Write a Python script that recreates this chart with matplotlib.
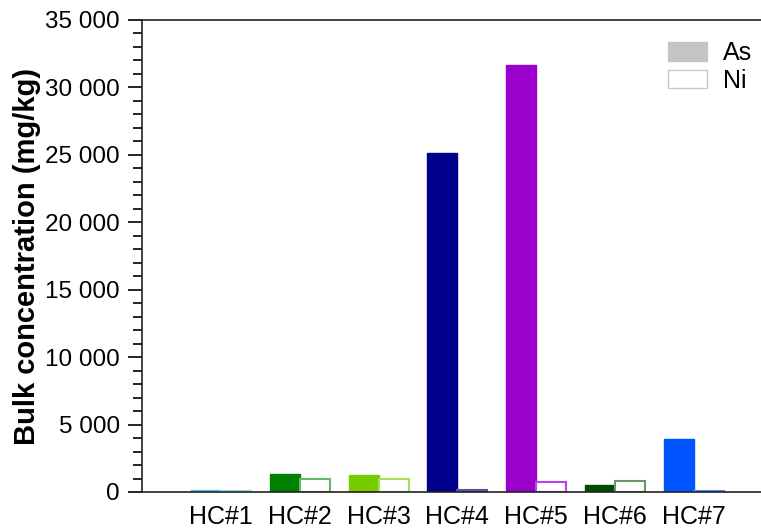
import numpy as np
import matplotlib
matplotlib.use("Agg")
import matplotlib.pyplot as plt
from matplotlib.ticker import FuncFormatter, MultipleLocator
from matplotlib.patches import Patch

plt.rcParams["font.family"] = ["Liberation Sans", "DejaVu Sans"]

samples = ["HC#1", "HC#2", "HC#3", "HC#4", "HC#5", "HC#6", "HC#7"]
arsenic = [120, 1340, 1290, 25150, 31650, 530, 3900]
nickel = [80, 950, 970, 140, 740, 850, 90]
as_colors = ["#5bc8ee", "#008000", "#77cc00", "#00008b", "#9b00cc", "#004d00", "#0055ff"]
ni_edges = ["#9bdcf2", "#66b866", "#a8de55", "#5555aa", "#b844e6", "#6f936f", "#4f8cff"]
ni_fills = ["white", "white", "white", "white", "white", "white", "#4f8cff"]

fig = plt.figure(figsize=(7.61, 5.28), dpi=100)
ax = fig.add_axes([142 / 761, 1 - 492 / 528, 1 - 142 / 761, (492 - 20) / 528])

x = np.arange(len(samples))
w = 0.38
ax.bar(x - w / 2, arsenic, width=w, color=as_colors, edgecolor=as_colors, linewidth=1)
ax.bar(x + w / 2, nickel, width=w, color=ni_fills, edgecolor=ni_edges, linewidth=1.5)

ax.set_xlim(-1.0, 6.85)
ax.set_ylim(0, 35000)
ax.set_xticks(x)
ax.set_xticklabels(samples, fontsize=18)
ax.tick_params(axis="x", length=0, pad=9)

ax.yaxis.set_major_locator(MultipleLocator(5000))
ax.yaxis.set_minor_locator(MultipleLocator(1000))
ax.yaxis.set_major_formatter(FuncFormatter(lambda v, p: f"{int(v):,}".replace(",", " ")))
ax.tick_params(axis="y", which="major", length=10, width=1.2, labelsize=17.5, pad=6)
ax.tick_params(axis="y", which="minor", length=6.5, width=1.2)

ax.spines["right"].set_visible(False)
for s in ["left", "bottom", "top"]:
    ax.spines[s].set_linewidth(1.2)
    ax.spines[s].set_color("#222222")

ax.set_ylabel("Bulk concentration (mg/kg)", fontsize=21, fontweight="bold", labelpad=3)

handles = [Patch(facecolor="#c4c4c4", edgecolor="#c4c4c4", label="As"),
           Patch(facecolor="white", edgecolor="#c8c8c8", label="Ni")]
fig.legend(handles=handles, loc="upper right", bbox_to_anchor=(752 / 761, 1 - 41 / 528),
           frameon=False, fontsize=18, handlelength=1.56, handleheight=0.76,
           labelspacing=0.15, handletextpad=0.65, borderpad=0, borderaxespad=0)

fig.savefig("out.png", dpi=100)
